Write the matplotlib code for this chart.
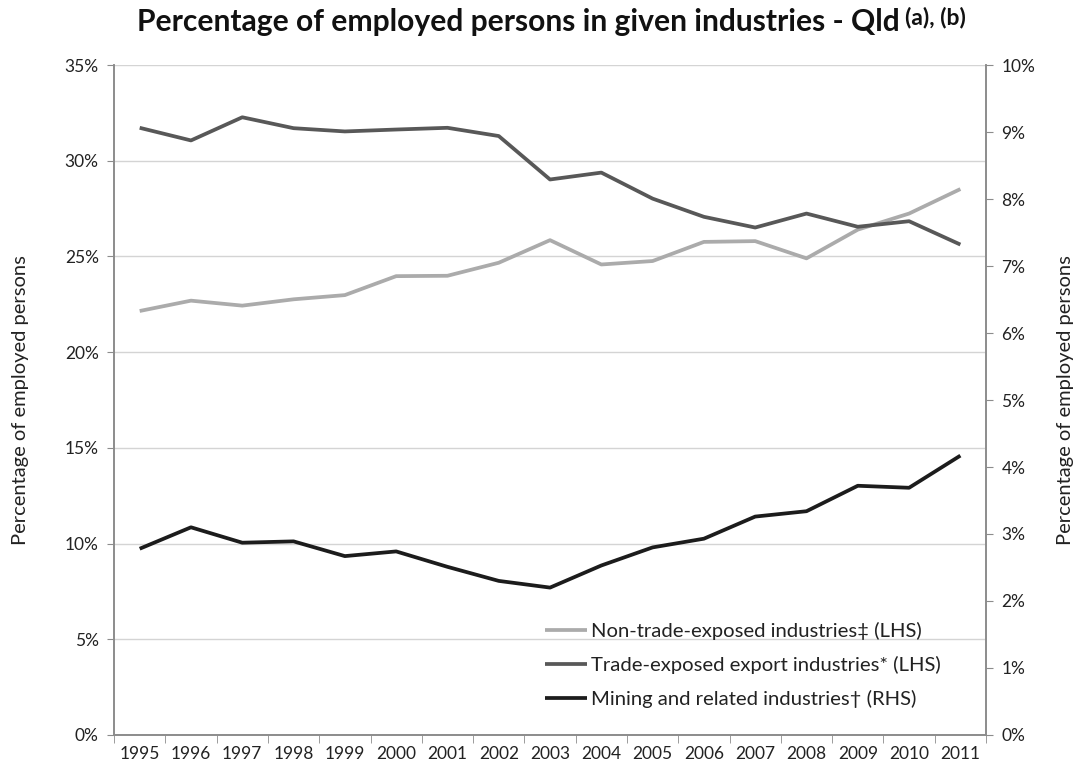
import numpy as np
import matplotlib
matplotlib.use("Agg")
import matplotlib.pyplot as plt
from matplotlib.ticker import FuncFormatter, MultipleLocator

plt.rcParams['font.family'] = ['Lato', 'DejaVu Sans']

# === data ===
years = [str(y) for y in range(1995, 2012)]
non_trade = [22.15, 22.69, 22.43, 22.76, 22.98, 23.97, 23.99, 24.67, 25.85,
             24.58, 24.76, 25.76, 25.80, 24.90, 26.40, 27.24, 28.52]
trade_export = [31.72, 31.06, 32.27, 31.70, 31.53, 31.63, 31.72, 31.29, 29.02,
                29.38, 28.02, 27.07, 26.51, 27.24, 26.55, 26.84, 25.62]
mining = [2.78, 3.10, 2.87, 2.89, 2.67, 2.74, 2.51, 2.30, 2.20,
          2.53, 2.80, 2.93, 3.26, 3.34, 3.72, 3.69, 4.17]

labels = ["Non-trade-exposed industries\u2021 (LHS)",
          "Trade-exposed export industries* (LHS)",
          "Mining and related industries\u2020 (RHS)"]

C_LIGHT = '#ababab'
C_DARK = '#585858'
C_BLACK = '#1c1c1c'
AX_GREY = '#8c8c8c'
TXT = '#222222'

fig = plt.figure(figsize=(10.82, 7.74), dpi=100)
ax = fig.add_axes([0.1054, 0.0504, 0.8059, 0.8656])
ax2 = ax.twinx()

x = np.arange(len(years))
l1, = ax.plot(x, non_trade, color=C_LIGHT, lw=2.7, solid_capstyle='butt', zorder=3)
l2, = ax.plot(x, trade_export, color=C_DARK, lw=2.7, solid_capstyle='butt', zorder=3)
l3, = ax2.plot(x, mining, color=C_BLACK, lw=2.7, solid_capstyle='butt', zorder=3)

ax.set_xlim(-0.5, len(years) - 0.5)
ax.set_ylim(0, 35)
ax2.set_ylim(0, 10)

ax.yaxis.set_major_locator(MultipleLocator(5))
ax2.yaxis.set_major_locator(MultipleLocator(1))
pct = FuncFormatter(lambda v, p: f"{v:.0f}%")
ax.yaxis.set_major_formatter(pct)
ax2.yaxis.set_major_formatter(pct)

# categories sit between ticks, like the spreadsheet chart
ax.set_xticks(x)
ax.set_xticklabels(years)
ax.set_xticks(np.arange(-0.5, len(years)), minor=True)
ax.tick_params(axis='x', which='major', length=0, pad=8, labelsize=12.5, labelcolor=TXT)
ax.tick_params(axis='x', which='minor', length=6, color=AX_GREY, direction='out')

ax.tick_params(axis='y', length=5, color=AX_GREY, labelsize=12.5, labelcolor=TXT, pad=6)
ax2.tick_params(axis='y', length=5, color=AX_GREY, labelsize=12.5, labelcolor=TXT, pad=6)

ax.grid(axis='y', color='#d4d4d4', lw=1.0)
ax.set_axisbelow(True)

for a in (ax, ax2):
    a.spines['top'].set_visible(False)
    for s in ('left', 'right', 'bottom'):
        a.spines[s].set_color(AX_GREY)
        a.spines[s].set_linewidth(1.2)

ax.set_ylabel("Percentage of employed persons", fontsize=14.5, color=TXT, labelpad=26)
ax2.set_ylabel("Percentage of employed persons", fontsize=14.5, color=TXT, labelpad=16,
               rotation=90)

leg = ax.legend([l1, l2, l3], labels, loc='lower right', bbox_to_anchor=(0.957, 0.028),
                borderaxespad=0, frameon=False, fontsize=14.6, handlelength=2.05,
                handletextpad=0.2, labelspacing=0.78, labelcolor=TXT)

# title with superscript note markers
title = fig.text(0.479, 0.972, "Percentage of employed persons in given industries - Qld",
                 ha='center', va='center', fontsize=21.6, fontweight='bold', color='#111111')
fig.canvas.draw()
bb = title.get_window_extent()
fig.text((bb.x1 + 5) / fig.bbox.width, (bb.y1 + 1) / fig.bbox.height, "(a), (b)",
         ha='left', va='top', fontsize=16.5, fontweight='bold', color='#111111')

fig.savefig("out.png", dpi=100, facecolor='white')
